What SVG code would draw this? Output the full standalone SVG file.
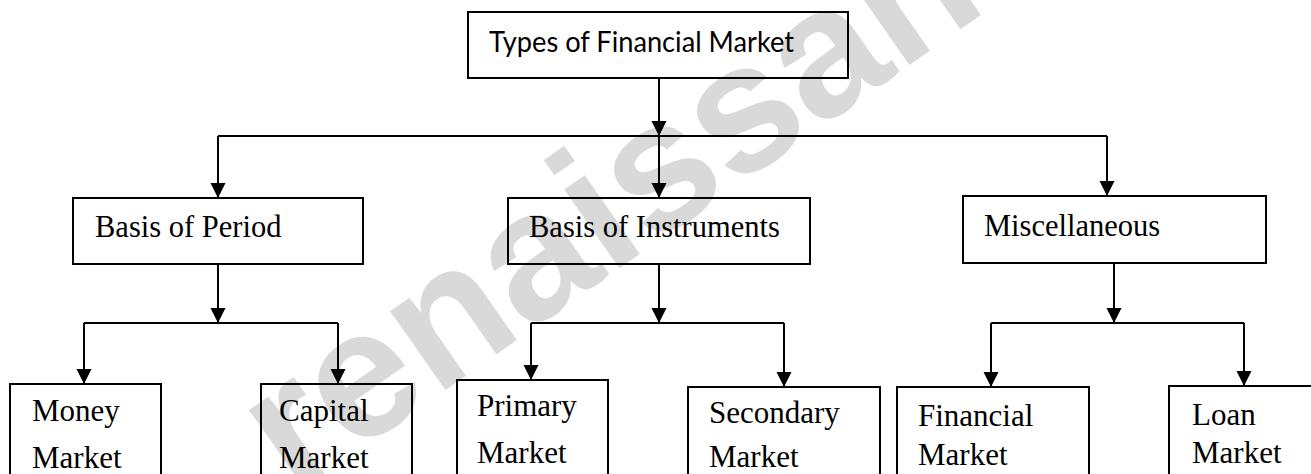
<svg xmlns="http://www.w3.org/2000/svg" width="1311" height="474" viewBox="0 0 1311 474">
<defs>
<style>
.box{fill:none;stroke:#000;stroke-width:2}
.c{fill:none;stroke:#000;stroke-width:2}
.a{marker-end:url(#ah)}
.hd{font-family:Lato,"Liberation Sans",Arial,sans-serif;font-size:28px;fill:#000}
.t2{font-family:"Liberation Serif","Times New Roman",serif;font-size:30.5px;fill:#000}
.t3{font-family:"Liberation Serif","Times New Roman",serif;font-size:31px;fill:#000}
.wm{font-family:"Liberation Sans",Arial,sans-serif;font-weight:bold;font-size:182px;fill:#d9d9d9}
</style>
<marker id="ah" markerUnits="userSpaceOnUse" markerWidth="16" markerHeight="16" refX="15" refY="7.5" orient="auto"><path d="M0,0 L15,7.5 L0,15 z" fill="#000"/></marker>
</defs>
<rect width="1311" height="474" fill="#fff"/>
<text class="wm" transform="translate(294,496) rotate(-35)">renaissance</text>

<g id="connectors">
<path class="c a" d="M659,78 V136"/>
<path class="c" d="M218,136 H1107"/>
<path class="c a" d="M218,136 V198"/>
<path class="c a" d="M659,136 V198"/>
<path class="c a" d="M1107,136 V196"/>
<path class="c a" d="M218,264 V323"/>
<path class="c" d="M84,323 H338"/>
<path class="c a" d="M84,323 V384"/>
<path class="c a" d="M338,323 V384"/>
<path class="c a" d="M659,264 V323"/>
<path class="c" d="M531,323 H784"/>
<path class="c a" d="M531,323 V380"/>
<path class="c a" d="M784,323 V387"/>
<path class="c a" d="M1114,263 V323"/>
<path class="c" d="M991,323 H1244"/>
<path class="c a" d="M991,323 V387"/>
<path class="c a" d="M1244,323 V386"/>
</g>

<g id="types"><rect class="box" x="468" y="12" width="380" height="66"/><text class="hd" x="489" y="52" textLength="305" lengthAdjust="spacingAndGlyphs">Types of Financial Market</text></g>

<g id="period"><rect class="box" x="73" y="198" width="290" height="66"/><text class="t2" x="95" y="237">Basis of Period</text></g>
<g id="instruments"><rect class="box" x="508" y="198" width="302" height="66"/><text class="t2" x="529" y="237">Basis of Instruments</text></g>
<g id="misc"><rect class="box" x="963" y="196" width="303" height="67"/><text class="t2" x="984" y="236">Miscellaneous</text></g>

<g id="money"><rect class="box" x="10" y="384" width="151" height="100"/><text class="t3" x="32" y="421">Money</text><text class="t3" x="32" y="468">Market</text></g>
<g id="capital"><rect class="box" x="261" y="384" width="151" height="100"/><text class="t3" x="279" y="421">Capital</text><text class="t3" x="279" y="468">Market</text></g>
<g id="primary"><rect class="box" x="457" y="380" width="151" height="100"/><text class="t3" x="477" y="416">Primary</text><text class="t3" x="477" y="463">Market</text></g>
<g id="secondary"><rect class="box" x="688" y="387" width="192" height="100"/><text class="t3" x="709" y="423">Secondary</text><text class="t3" x="709" y="467">Market</text></g>
<g id="financial"><rect class="box" x="897" y="387" width="192" height="100"/><text class="t3" x="918" y="426">Financial</text><text class="t3" x="918" y="465">Market</text></g>
<g id="loan"><rect class="box" x="1169" y="386" width="160" height="100"/><text class="t3" x="1192" y="425">Loan</text><text class="t3" x="1192" y="463">Market</text></g>
</svg>
